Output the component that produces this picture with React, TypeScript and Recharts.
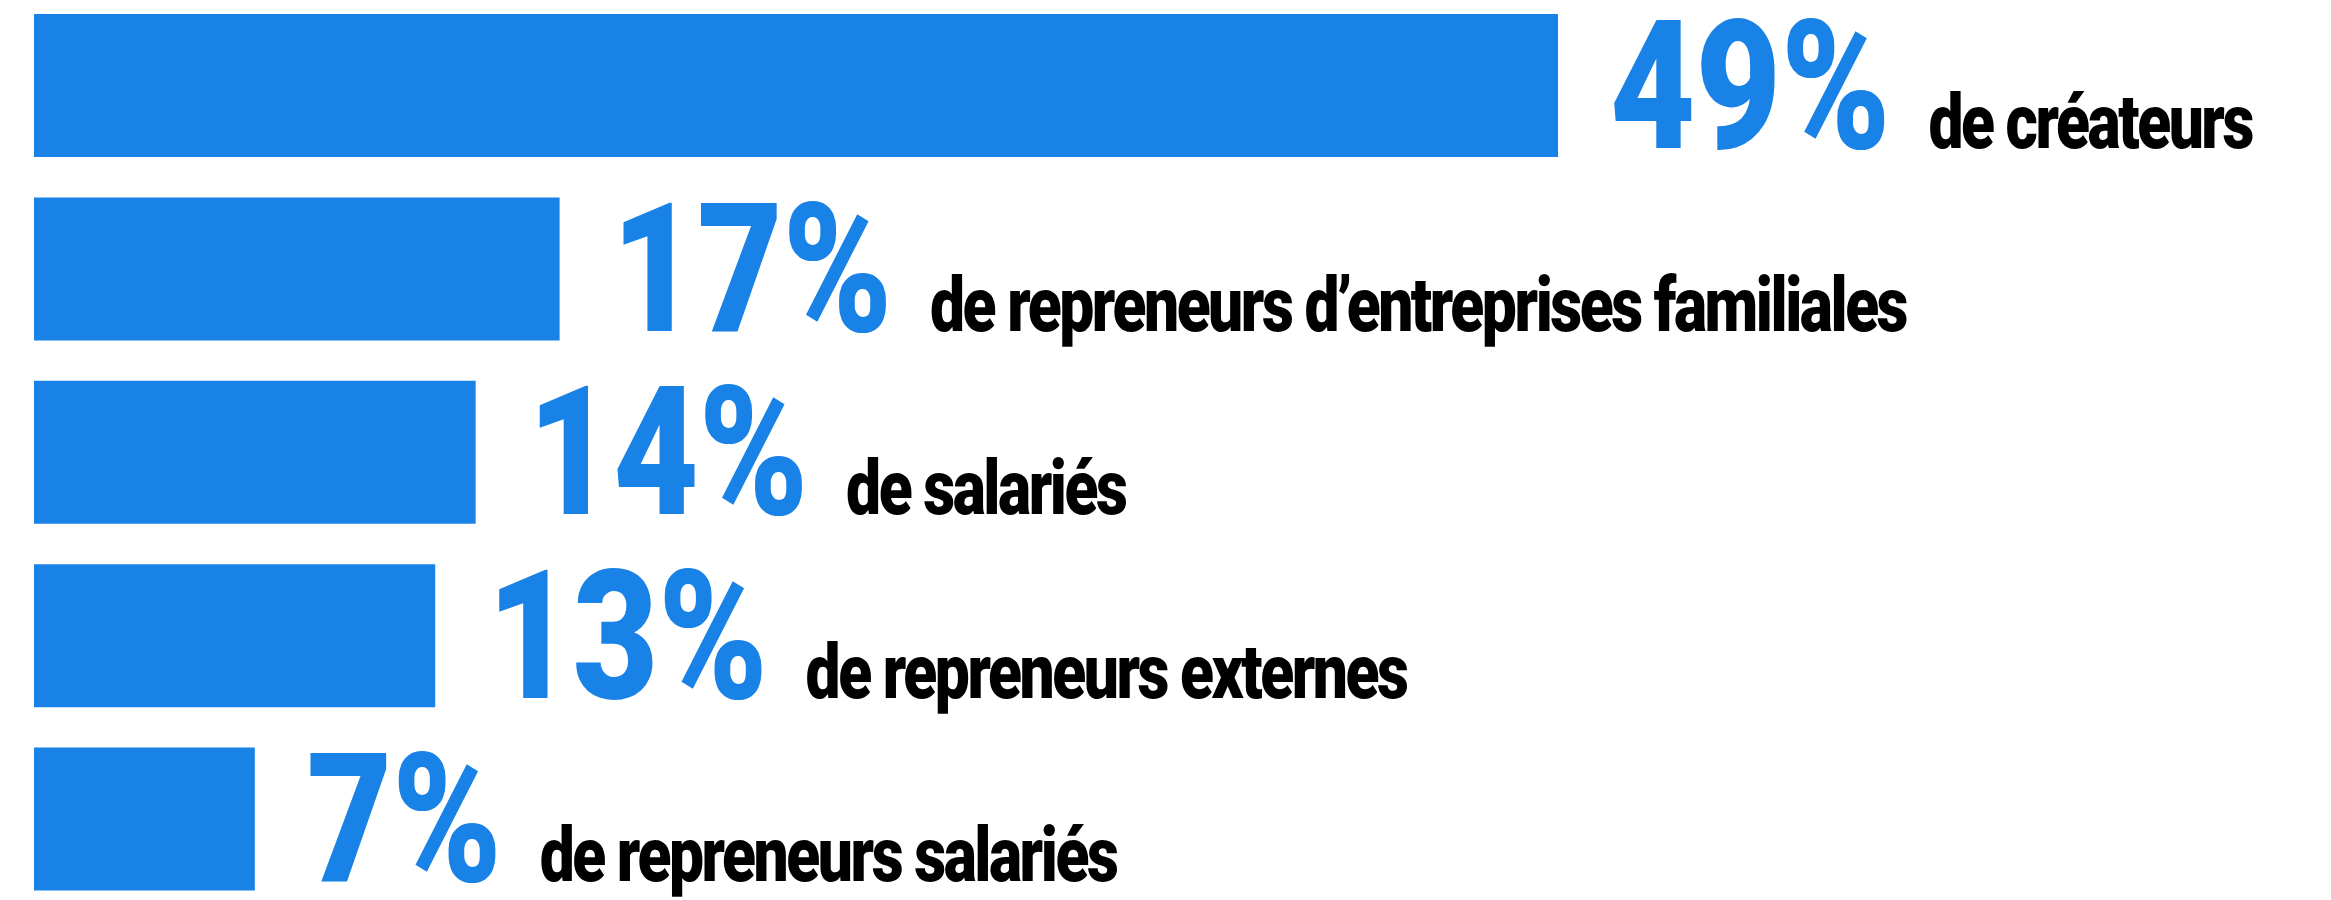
import React from 'react';
import { BarChart, Bar, XAxis, YAxis, LabelList } from 'recharts';

// share of each profile (bar lengths), rounded values shown as labels
const categories = [
  'de créateurs',
  'de repreneurs d’entreprises familiales',
  'de salariés',
  'de repreneurs externes',
  'de repreneurs salariés',
];
const shares = [49, 16.9, 14.2, 12.9, 7.1];
const shareLabels = ['49%', '17%', '14%', '13%', '7%'];

const BLUE = '#1982E6';

const data = categories.map((name, i) => ({
  name,
  value: shares[i],
  label: shareLabels[i],
}));

const renderLabel = (props: any) => {
  const { x, y, width, height, index } = props;
  const row = data[index];
  if (!row) return null;
  const bx = Number(x) + Number(width) + 52;
  const by = Number(y) + Number(height) / 2 + 62;
  return (
    <text
      transform={`translate(${bx},${by}) scale(0.82,1)`}
      x={0}
      y={0}
      fontFamily="Roboto, 'DejaVu Sans', sans-serif"
      fontWeight={900}
    >
      <tspan fontSize={180} fill={BLUE}>
        {row.label}
      </tspan>
      <tspan dx={46} fontSize={76} fill="#000" letterSpacing={-3}>
        {row.name}
      </tspan>
    </text>
  );
};

const App: React.FC = () => {
  return (
    <div style={{ position: 'absolute', top: 0, left: 0, width: 2331, height: 900, overflow: 'hidden', background: '#fff' }}>
      <div style={{ position: 'relative', top: -6 }}>
        <BarChart
          width={2331}
          height={917}
          data={data}
          layout="vertical"
          margin={{ top: 0, right: 773, bottom: 0, left: 34 }}
        >
          <XAxis type="number" domain={[0, 49]} hide />
          <YAxis type="category" dataKey="name" hide />
          <Bar dataKey="value" fill={BLUE} barSize={143} isAnimationActive={false}>
            <LabelList dataKey="value" content={renderLabel} />
          </Bar>
        </BarChart>
      </div>
    </div>
  );
};

export default App;
